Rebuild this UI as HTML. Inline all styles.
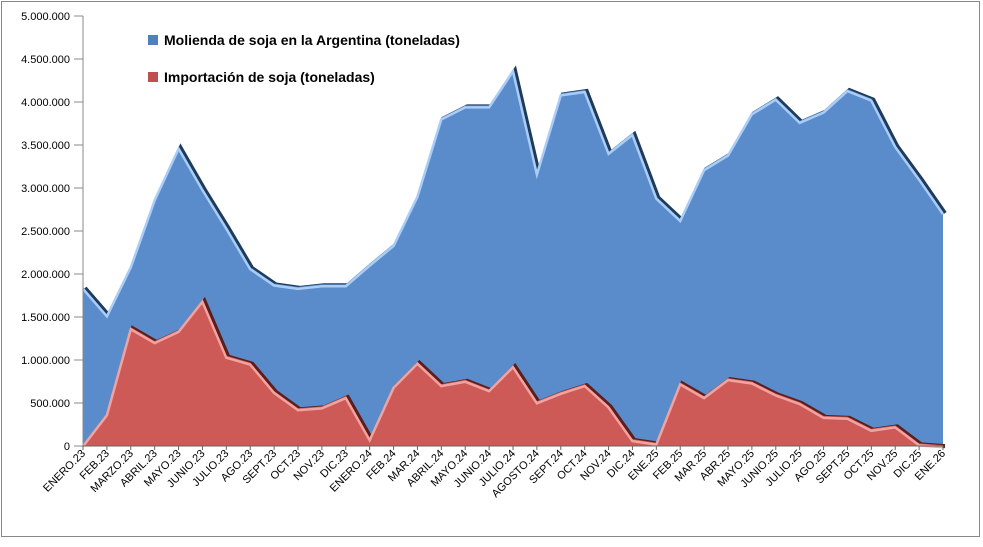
<!DOCTYPE html>
<html><head><meta charset="utf-8"><style>
body{margin:0;background:#fff;}
svg{display:block;font-family:"Liberation Sans",sans-serif;}
</style></head><body>
<svg id="c" width="983" height="547" xmlns="http://www.w3.org/2000/svg">
<rect x="1.5" y="1.5" width="978" height="535" fill="#fff" stroke="#888" stroke-width="1"/>
<g id="g"></g>
<rect x="148" y="35" width="10" height="10" fill="#4f81bd"/>
<text x="164" y="45" font-size="14" font-weight="bold" fill="#000">Molienda de soja en la Argentina (toneladas)</text>
<rect x="148" y="72" width="10" height="10" fill="#c0504d"/>
<text x="164" y="82" font-size="14" font-weight="bold" fill="#000">Importación de soja (toneladas)</text>
</svg>
<script>
var L=["ENERO.23","FEB.23","MARZO.23","ABRIL.23","MAYO.23","JUNIO.23","JULIO.23","AGO.23","SEPT.23","OCT.23","NOV.23","DIC.23","ENERO.24","FEB.24","MAR.24","ABRIL.24","MAYO.24","JUNIO.24","JULIO.24","AGOSTO.24","SEPT.24","OCT.24","NOV.24","DIC.24","ENE.25","FEB.25","MAR.25","ABR.25","MAYO.25","JUNIO.25","JULIO.25","AGO.25","SEPT.25","OCT.25","NOV.25","DIC.25","ENE.26"];
var B=[1850,1530,2100,2880,3480,3000,2550,2080,1890,1850,1880,1880,2120,2350,2920,3820,3960,3960,4380,3180,4100,4140,3420,3640,2900,2640,3230,3400,3880,4050,3780,3900,4150,4040,3500,3120,2720];
var R=[20,380,1380,1220,1350,1700,1050,970,640,440,460,580,90,700,980,720,770,660,940,520,630,720,470,80,40,740,580,790,750,610,510,350,340,200,240,30,10];
var x0=83,x1=943,y0=446,sc=430/5000,st=(x1-x0)/36,h='';
function X(i){return x0+i*st}function Y(v){return y0-v*sc}
for(var k=0;k<=10;k++){var v=k*500,y=Y(v);var s=k==0?'0':(v>=1000?Math.floor(v/1000)+'.'+String(v%1000).padStart(3,'0')+'.000':v+'.000');
h+='<text x="70" y="'+(y+4)+'" font-size="11" text-anchor="end">'+s+'</text><line x1="74" x2="'+x0+'" y1="'+y+'" y2="'+y+'" stroke="#888"/>';}
function area(d,fill,dark,light){var p=X(0)+','+y0;d.forEach(function(v,i){p+=' '+X(i).toFixed(1)+','+Y(v).toFixed(1)});p+=' '+X(36)+','+y0;
var ln=d.map(function(v,i){return X(i).toFixed(1)+','+Y(v).toFixed(1)}).join(' ');
return '<polyline points="'+ln+'" fill="none" stroke="'+dark+'" stroke-width="4" transform="translate(2,1)"/>'+
'<polygon points="'+p+'" fill="'+fill+'"/>'+'<polyline points="'+ln+'" fill="none" stroke="'+light+'" stroke-width="2.5" transform="translate(0,2)"/>';}
h+=area(B,'#5a8ccb','#1f3b5c','#a9cdf7');
h+=area(R,'#cd5a57','#5a1e1c','#f0a3a0');
h+='<line x1="'+x0+'" x2="'+x1+'" y1="'+y0+'" y2="'+y0+'" stroke="#666"/><line x1="'+x0+'" x2="'+x0+'" y1="16" y2="'+y0+'" stroke="#888"/>';
L.forEach(function(t,i){var x=X(i)+3,y=454;h+='<line x1="'+X(i)+'" x2="'+X(i)+'" y1="446" y2="450" stroke="#666"/><text font-size="11" text-anchor="end" transform="translate('+x+','+y+') rotate(-45)">'+t+'</text>';});
document.getElementById('g').innerHTML=h;
</script>
</body></html>
